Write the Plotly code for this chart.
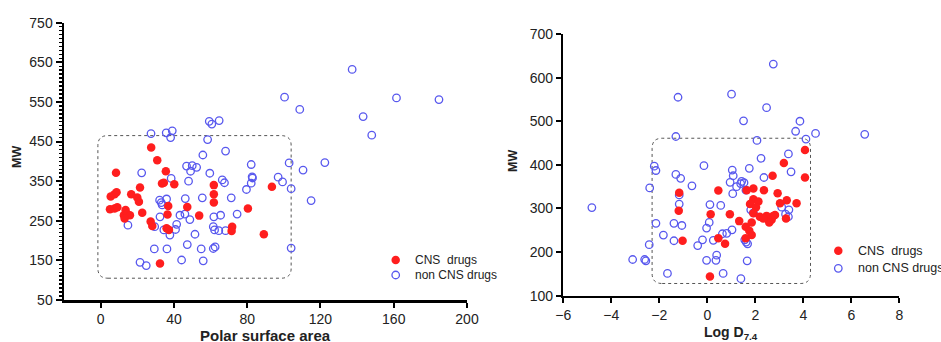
import plotly.graph_objects as go

# ---------------- Left panel: Polar surface area vs MW ----------------
psa_cns = [27.6, 30.9, 8.4, 35.6, 33.5, 34.5, 40.2, 21.5, 61.8, 93.5, 5.5, 7.6, 8.7, 16.7, 20.0,
           20.9, 61.8, 36.9, 61.8, 5.1, 7.6, 9.1, 13.6, 12.7, 14.5, 16.0, 13.1, 22.7, 47.3, 80.4,
           53.8, 36.5, 27.3, 28.2, 36.0, 37.3, 71.8, 71.5, 89.1, 32.4]
mw_cns_l = [435, 403, 371, 375, 344, 346, 342, 334, 340, 336, 311, 317, 322, 317, 309,
            298, 317, 287, 296, 279, 281, 284, 277, 264, 267, 264, 256, 270, 285, 281,
            263, 266, 248, 237, 231, 227, 235, 224, 216, 142]

psa_non = [137.3, 100.4, 161.5, 184.7, 108.7, 143.3, 148.0, 59.3, 60.7, 64.7, 27.5, 35.8, 39.1,
           38.2, 58.4, 122.4, 102.9, 110.5, 114.9, 104.0, 96.9, 99.3, 104.0, 68.2, 55.8, 82.2,
           46.9, 50.0, 52.4, 49.1, 22.4, 59.6, 82.7, 82.9, 82.2, 38.5, 48.0, 66.4, 67.6, 79.6,
           46.2, 55.5, 71.3, 32.2, 33.1, 33.6, 36.0, 43.3, 46.0, 48.7, 32.4, 61.8, 65.5, 74.5,
           29.5, 41.5, 40.9, 14.9, 34.5, 37.8, 51.5, 61.5, 62.2, 64.5, 68.2, 29.3, 36.2, 47.3,
           54.9, 61.5, 62.5, 21.5, 24.9, 44.2, 56.0]
mw_non_l = [632, 562, 560, 556, 531, 513, 466, 501, 494, 503, 470, 472, 477,
            460, 455, 397, 396, 378, 301, 331, 360, 348, 181, 426, 416, 392,
            388, 389, 385, 375, 371, 370, 361, 358, 345, 357, 350, 353, 346, 329,
            306, 308, 308, 302, 296, 290, 305, 264, 267, 253, 260, 260, 264, 267,
            235, 241, 228, 239, 227, 214, 216, 235, 227, 225, 225, 179, 179, 190,
            179, 180, 184, 145, 137, 151, 149]

# ---------------- Right panel: Log D7.4 vs MW ----------------
logd_cns = [1.64, 1.92, 2.36, 2.72, 2.93, 3.19, 3.31, 3.72, 4.07, 4.07, 1.92, 2.13, 1.78, 2.03,
            1.92, 2.19, 2.47, 2.75, 2.68, 2.58, 2.82, 3.28, 3.03, 1.33, 1.60, 1.85, 1.75, 1.85,
            1.60, 0.94, 0.46, 0.14, 0.46, 0.74, -1.17, -1.19, -1.03, 0.11, 2.33]
mw_cns_r = [342, 346, 342, 375, 335, 404, 319, 312, 434, 371, 321, 316, 310, 303,
            289, 281, 283, 283, 274, 268, 285, 277, 312, 271, 258, 268, 249, 239,
            232, 287, 341, 287, 232, 219, 336, 295, 226, 144, 277]

logd_non = [-4.81, -1.22, 1.01, 2.75, 2.47, 1.51, 3.86, 3.68, 4.51, 4.11, 6.56, -1.31, 2.07, 2.24,
            3.38, 3.49, 2.36, 1.75, 1.04, 1.08, 0.95, 1.22, 1.43, 1.53, 1.39, 1.06, -0.14, -2.21,
            -2.14, -1.31, -1.11, -0.64, -2.40, -1.17, -1.17, 0.11, 0.56, -2.14, -1.39, -1.06, 0.08,
            -0.03, -1.83, -1.39, -0.20, -0.40, 0.25, 0.63, 0.81, 1.03, -2.42, -3.11, -2.61, -2.56,
            -1.66, -0.03, 0.36, 0.39, 0.66, 1.40, 1.66, 1.56, 1.62, 1.68, 3.10, 3.40, 3.26, 3.38,
            1.92, 1.81, 1.61]
mw_non_r = [302, 555, 562, 631, 531, 501, 500, 477, 472, 459, 470, 465, 456, 415,
            425, 384, 371, 392, 388, 375, 360, 350, 362, 359, 357, 334, 398, 397,
            387, 378, 369, 352, 347, 331, 310, 309, 307, 266, 266, 261, 268,
            255, 239, 226, 228, 215, 227, 242, 243, 251, 217, 183, 183, 180,
            151, 181, 181, 193, 151, 139, 180, 228, 223, 219, 303, 297, 287, 281,
            290, 297, 342]

legend_labels = ["CNS\u00a0 drugs", "non CNS drugs"]

RED = "#FF1E1E"
BLUE = "rgb(88,88,238)"
FONT = "Arial, Liberation Sans, sans-serif"
TXT = "#222222"
W, H = 941, 342

fig = go.Figure()

red_marker = dict(symbol="circle", size=8.5, color=RED, line=dict(width=0))
blue_marker = dict(symbol="circle-open", size=7.5, color=BLUE, line=dict(width=1.3, color=BLUE))

fig.add_trace(go.Scatter(x=psa_non, y=mw_non_l, mode="markers", marker=blue_marker,
                         name=legend_labels[1], xaxis="x", yaxis="y", hoverinfo="x+y"))
fig.add_trace(go.Scatter(x=psa_cns, y=mw_cns_l, mode="markers", marker=red_marker,
                         name=legend_labels[0], xaxis="x", yaxis="y", hoverinfo="x+y"))
fig.add_trace(go.Scatter(x=logd_non, y=mw_non_r, mode="markers", marker=blue_marker,
                         name=legend_labels[1], xaxis="x2", yaxis="y2", hoverinfo="x+y"))
fig.add_trace(go.Scatter(x=logd_cns, y=mw_cns_r, mode="markers", marker=red_marker,
                         name=legend_labels[0], xaxis="x2", yaxis="y2", hoverinfo="x+y"))

# Legend keys, placed on a hidden full-figure overlay axis in pixel units
leg_left = dict(mx=395.7, tx=412.7, rows=[260, 275], size=12)
leg_right = dict(mx=838.3, tx=856, rows=[250.7, 268.3], size=12.5)
for leg in (leg_left, leg_right):
    fig.add_trace(go.Scatter(x=[leg["mx"]], y=[leg["rows"][0]], mode="markers", marker=red_marker,
                             xaxis="x3", yaxis="y3", hoverinfo="skip"))
    fig.add_trace(go.Scatter(x=[leg["mx"]], y=[leg["rows"][1]], mode="markers", marker=blue_marker,
                             xaxis="x3", yaxis="y3", hoverinfo="skip"))
    for lab, row in zip(legend_labels, leg["rows"]):
        fig.add_annotation(text=lab, xref="paper", yref="paper", x=leg["tx"] / W,
                           y=(H - row) / H, xanchor="left", yanchor="middle", showarrow=False,
                           font=dict(family=FONT, size=leg["size"], color=TXT))


def rounded_rect(x0, x1, y0, y1, rx, ry):
    return (f"M {x0+rx},{y0} L {x1-rx},{y0} Q {x1},{y0} {x1},{y0+ry} "
            f"L {x1},{y1-ry} Q {x1},{y1} {x1-rx},{y1} "
            f"L {x0+rx},{y1} Q {x0},{y1} {x0},{y1-ry} "
            f"L {x0},{y0+ry} Q {x0},{y0} {x0+rx},{y0} Z")


box_line = dict(color="#555555", width=1, dash="dot")
fig.add_shape(type="path", xref="x", yref="y",
              path=rounded_rect(-1.5, 104, 105, 465, 5.5, 25), line=box_line, layer="below")
fig.add_shape(type="path", xref="x2", yref="y2",
              path=rounded_rect(-2.3, 4.3, 128, 461, 0.42, 23), line=box_line, layer="below")

axis_common = dict(showline=True, linewidth=2.5, linecolor="black", ticks="outside",
                   tickwidth=2, tickcolor="black", showgrid=False, zeroline=False,
                   tickfont=dict(family=FONT, size=14, color=TXT), fixedrange=True,
                   automargin=False)

fig.update_layout(
    width=W, height=H,
    margin=dict(l=0, r=0, t=0, b=0, autoexpand=False),
    showlegend=False,
    paper_bgcolor="white", plot_bgcolor="rgba(0,0,0,0)",
    font=dict(family=FONT, color=TXT),
    xaxis=dict(domain=[64 / W, 467 / W], range=[-20, 200], tickmode="array",
               tickvals=[0, 40, 80, 120, 160, 200], ticklen=5, anchor="y", **axis_common),
    yaxis=dict(domain=[(H - 300) / H, (H - 22.7) / H], range=[50, 750], tick0=50, dtick=100,
               ticklen=6,
               minor=dict(dtick=10, tick0=50, ticklen=3, ticks="outside", tickwidth=1.5,
                          tickcolor="black", showgrid=False),
               anchor="x", **axis_common),
    xaxis2=dict(domain=[563.3 / W, 899.3 / W], range=[-6, 8], tick0=-6, dtick=2, ticklen=5,
                anchor="y2", **axis_common),
    yaxis2=dict(domain=[(H - 295.7) / H, (H - 34) / H], range=[100, 700], tick0=100, dtick=100,
                ticklen=5, anchor="x2", **axis_common),
    xaxis3=dict(domain=[0, 1], range=[0, W], visible=False, fixedrange=True, anchor="y3"),
    yaxis3=dict(domain=[0, 1], range=[H, 0], visible=False, fixedrange=True, anchor="x3"),
)

title_font = dict(family=FONT, size=15, color=TXT)
fig.add_annotation(text="<b>Polar surface area</b>", xref="paper", yref="paper",
                   x=265.5 / W, y=(H - 335) / H, xanchor="center", yanchor="middle",
                   showarrow=False, font=title_font)
fig.add_annotation(text="<b>Log D<sub>7.4</sub></b>", xref="paper", yref="paper",
                   x=731.3 / W, y=(H - 333) / H, xanchor="center", yanchor="middle",
                   showarrow=False, font=dict(family=FONT, size=14, color=TXT))
fig.add_annotation(text="<b>MW</b>", xref="paper", yref="paper", textangle=-90,
                   x=17 / W, y=(H - 157) / H, xanchor="center", yanchor="middle",
                   showarrow=False, font=dict(family=FONT, size=12.5, color=TXT))
fig.add_annotation(text="<b>MW</b>", xref="paper", yref="paper", textangle=-90,
                   x=513 / W, y=(H - 161) / H, xanchor="center", yanchor="middle",
                   showarrow=False, font=dict(family=FONT, size=12.5, color=TXT))

fig.write_html("out.html", config={"displayModeBar": False, "staticPlot": True},
               post_script="document.body.style.margin='0px';document.body.style.overflow='hidden';")
